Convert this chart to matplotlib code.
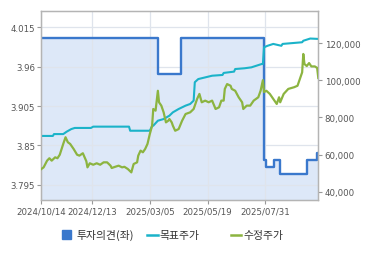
import matplotlib
matplotlib.use("Agg")
import matplotlib.pyplot as plt
from matplotlib.lines import Line2D
from matplotlib.patches import Rectangle

# ---------------- data ----------------
x_tick_idx = [0, 44, 94, 144, 194]
x_tick_labels = ["2024/10/14", "2024/12/13", "2025/03/05", "2025/05/19", "2025/07/31"]

left_ticks = [3.795, 3.85, 3.905, 3.96, 4.015]
left_tick_labels = ["3.795", "3.85", "3.905", "3.96", "4.015"]
right_ticks = [40000, 60000, 80000, 100000, 120000]
right_tick_labels = ["40,000", "60,000", "80,000", "100,000", "120,000"]

# investment opinion (left axis), step series
op_idx = [0, 101, 121, 193, 195, 202, 207, 230, 239, 240]
op_val = [4.0, 3.95, 4.0, 3.83, 3.82, 3.83, 3.81, 3.83, 3.84, 3.84]

# target price (right axis)
target_idx = [0, 10, 11, 19, 22, 26, 29, 43, 45, 76, 77, 94, 96, 97, 101, 106, 111, 114,
              119, 125, 129, 132, 133, 136, 142, 148, 157, 158, 167, 168, 176, 182, 191,
              192, 193, 196, 201, 208, 209, 226, 227, 233, 240]
target_val = [70000, 70000, 71000, 71000, 72300, 73700, 74300, 74300, 75000, 75000, 72800,
              72800, 75300, 75500, 78200, 79100, 80900, 82700, 84500, 86300, 87200, 89000,
              98900, 100600, 101500, 102400, 102800, 103900, 104600, 106000, 106400, 106900,
              108700, 108700, 117700, 118500, 119500, 118500, 119500, 120400, 121200, 122400,
              122200]

# adjusted price (right axis)
price_idx = [0, 2, 5, 7, 9, 12, 14, 16, 19, 21, 23, 25, 28, 31, 33, 36, 39, 40, 42, 45, 48,
             51, 54, 57, 60, 61, 64, 67, 70, 72, 75, 78, 80, 83, 84, 86, 88, 90, 92, 94, 96,
             97, 99, 101, 102, 104, 106, 108, 110, 111, 113, 114, 116, 119, 122, 125, 129,
             132, 135, 137, 139, 142, 145, 148, 151, 154, 156, 158, 159, 161, 164, 165, 168,
             171, 174, 175, 178, 181, 184, 188, 190, 192, 193, 195, 198, 201, 204, 206, 207,
             210, 214, 219, 222, 224, 226, 227, 228, 230, 232, 234, 237, 239, 240]
price_val = [52200, 53100, 56700, 58000, 56700, 58500, 58000, 59900, 65700, 69300, 66600,
             65700, 63000, 59900, 59400, 60700, 56400, 53100, 55300, 54500, 55300, 54500,
             55800, 55800, 54000, 52750, 53400, 54000, 53100, 53400, 52200, 50400, 54900,
             55800, 59400, 62100, 61200, 63000, 65700, 71000, 75500, 84500, 83600, 94300,
             88100, 86300, 82700, 77300, 78200, 79100, 77300, 75500, 72800, 73700, 78200,
             81800, 82700, 84500, 89900, 92600, 88100, 89000, 88100, 89000, 84500, 85400,
             89000, 89000, 95300, 97900, 97000, 95300, 94300, 90800, 88100, 84500, 86300,
             86300, 89000, 90800, 94300, 100000, 93600, 94300, 92600, 89900, 87200, 90800,
             88100, 92600, 95300, 96200, 97000, 100600, 104200, 114100, 108700, 107600,
             109200, 107400, 107400, 106600, 101200]

legend_labels = ["투자의견(좌)", "목표주가", "수정주가"]

# ---------------- style ----------------
C_BLUE = "#3a78cc"
C_FILL = "#dde8f8"
C_TEAL = "#1bb3c9"
C_GREEN = "#8cb440"
C_GRID = "#dfe4ec"
C_SPINE = "#b4b4b4"
C_TEXT = "#555555"

plt.rcParams["font.family"] = ["DejaVu Sans"]

fig = plt.figure(figsize=(3.7, 2.55), dpi=100)
ax1 = fig.add_axes([41.3 / 370, 1 - 201 / 255, (318.3 - 41.3) / 370, (201 - 12.3) / 255])
ax2 = ax1.twinx()

y1min, y1max = 3.7736, 4.0374
ax1.set_ylim(y1min, y1max)
ax1.set_xlim(0, 240)
ax2.set_ylim(35535, 137055)

ax1.fill_between(op_idx, op_val, y1min, step="post", color=C_FILL, lw=0, zorder=0.5)
ax1.plot(op_idx, op_val, drawstyle="steps-post", color=C_BLUE, lw=1.7, zorder=2)

ax2.plot(target_idx, target_val, color=C_TEAL, lw=1.5, zorder=2)
ax2.plot(price_idx, price_val, color=C_GREEN, lw=1.6, zorder=3)

ax1.set_yticks(left_ticks)
ax1.set_yticklabels(left_tick_labels)
ax2.set_yticks(right_ticks)
ax2.set_yticklabels(right_tick_labels)
ax1.set_xticks(x_tick_idx)
ax1.set_xticklabels(x_tick_labels)

ax1.grid(True, color=C_GRID, lw=0.9)
ax2.grid(False)

for ax in (ax1, ax2):
    for s in ax.spines.values():
        s.set_color(C_SPINE)
        s.set_linewidth(0.9)
    ax.tick_params(colors="#999999", labelcolor=C_TEXT, labelsize=6.2, length=3, width=0.8, pad=1.5)

fig.patches.append(Rectangle((62.3 / 370, 1 - 240 / 255), 8.4 / 370, 9 / 255,
                             transform=fig.transFigure, color=C_BLUE, figure=fig))
ly = 1 - 235.5 / 255
fig.lines.append(Line2D([146.7 / 370, 157.5 / 370], [ly, ly], transform=fig.transFigure,
                        color=C_TEAL, lw=1.8))
fig.lines.append(Line2D([230.7 / 370, 241 / 370], [ly, ly], transform=fig.transFigure,
                        color=C_GREEN, lw=1.8))
kfont = ["Noto Sans CJK KR", "DejaVu Sans"]
fig.text(76.5 / 370, ly, legend_labels[0], family=kfont, fontsize=7.8, color="#333333", va="center")
fig.text(159.5 / 370, ly, legend_labels[1], family=kfont, fontsize=7.8, color="#333333", va="center")
fig.text(243.5 / 370, ly, legend_labels[2], family=kfont, fontsize=7.8, color="#333333", va="center")

fig.savefig("out.png", dpi=100)
